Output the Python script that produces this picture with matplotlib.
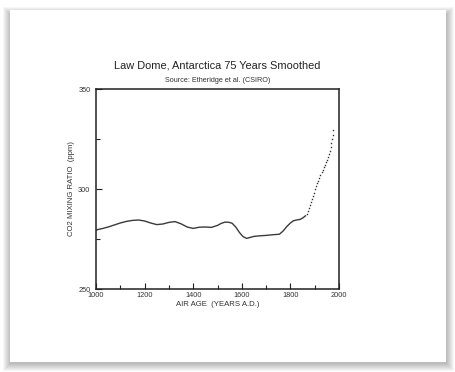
import numpy as np
import matplotlib
matplotlib.use('Agg')
import matplotlib.pyplot as plt
from matplotlib.patches import Rectangle

plt.rcParams['font.family'] = ['Liberation Sans', 'DejaVu Sans']

# smoothed record, drawn as a continuous trace
years_smooth = [1000, 1025, 1050, 1075, 1100, 1125, 1150, 1175, 1200, 1225,
                1250, 1275, 1300, 1325, 1350, 1375, 1400, 1425, 1450, 1475,
                1500, 1515, 1530, 1545, 1560, 1575, 1590, 1605, 1620, 1635,
                1650, 1675, 1700, 1725, 1755, 1770, 1785, 1800, 1812, 1825,
                1840, 1852, 1862]
co2_smooth = [279.5, 280.2, 281.0, 282.0, 283.0, 283.8, 284.3, 284.5, 284.0, 283.0,
              282.2, 282.5, 283.3, 283.7, 282.6, 281.0, 280.3, 280.9, 281.0, 280.8,
              281.8, 282.8, 283.4, 283.4, 282.9, 281.0, 278.3, 276.2, 275.3, 275.8,
              276.3, 276.6, 276.8, 277.1, 277.4, 279.0, 281.2, 283.0, 284.1, 284.5,
              284.8, 285.6, 286.6]

# late points, spaced enough to show as dots
years_dots = [1868, 1872, 1876, 1880, 1884, 1888, 1892, 1896, 1900, 1904,
              1908, 1913, 1918, 1923, 1928, 1933, 1938, 1943, 1948, 1952,
              1956, 1960, 1963, 1966, 1969, 1971, 1974, 1977]
co2_dots = [287.6, 289.0, 290.5, 292.0, 293.5, 295.0, 296.6, 298.2, 299.8, 301.4,
            302.8, 304.2, 305.6, 307.0, 308.3, 309.6, 310.9, 312.2, 313.5, 314.7,
            316.0, 317.3, 319.0, 320.8, 322.8, 324.8, 327.0, 329.5]

W, H = 456, 372
fig = plt.figure(figsize=(W / 100, H / 100), dpi=100)
fig.patch.set_facecolor('white')

# drop shadow + white card
cx0, cy0, cx1, cy1 = 10, 10, 446, 362
for k in range(8, 0, -1):
    fig.patches.append(Rectangle(((cx0 - k + 1) / W, 1 - (cy1 + k + 1) / H),
                                 (cx1 - cx0 + 2 * k - 1) / W, (cy1 - cy0 + 2 * k - 4) / H,
                                 transform=fig.transFigure, facecolor='black',
                                 alpha=0.035, edgecolor='none', zorder=0))
fig.patches.append(Rectangle((cx0 / W, 1 - cy1 / H), (cx1 - cx0) / W, (cy1 - cy0) / H,
                             transform=fig.transFigure, facecolor='white',
                             edgecolor='none', zorder=1))

ax = fig.add_axes([96 / W, 1 - 289 / H, (339 - 96) / W, (289 - 89) / H])
ax.set_zorder(2)
ax.plot(years_smooth, co2_smooth, color='#3a3a3a', lw=1.0)
ax.plot(years_dots, co2_dots, linestyle='none', marker='s', ms=1.0,
        color='#333333', mec='none')

ax.set_xlim(1000, 2000)
ax.set_ylim(250, 350)
ax.set_xticks([1000, 1200, 1400, 1600, 1800, 2000])
ax.set_xticks(np.arange(1000, 2001, 100), minor=True)
ax.set_yticks([250, 300, 350])
ax.set_yticks([275, 325], minor=True)
ax.tick_params(which='both', direction='in', labelsize=5.3, width=0.8,
               color='#222222', labelcolor='#333333')
ax.tick_params(which='major', length=4, pad=2)
ax.tick_params(axis='y', which='major', pad=4)
ax.tick_params(which='minor', length=3)
for s in ax.spines.values():
    s.set_linewidth(1.1)
    s.set_color('#222222')

fig.text(0.5 * (96 + 339) / W, 1 - 65.5 / H, 'Law Dome, Antarctica 75 Years Smoothed',
         ha='center', va='center', fontsize=7.9, color='#222222')
fig.text(0.5 * (96 + 339) / W, 1 - 80.5 / H, 'Source: Etheridge et al. (CSIRO)',
         ha='center', va='center', fontsize=5.2, color='#333333')
fig.text(0.5 * (96 + 339) / W, 1 - 304 / H, 'AIR AGE  (YEARS A.D.)',
         ha='center', va='center', fontsize=5.6, color='#333333')
fig.text(72 / W, 1 - 189 / H, 'CO2 MIXING RATIO  (ppm)', rotation=90,
         ha='center', va='center', fontsize=5.6, color='#333333')

fig.savefig('out.png', dpi=100)
